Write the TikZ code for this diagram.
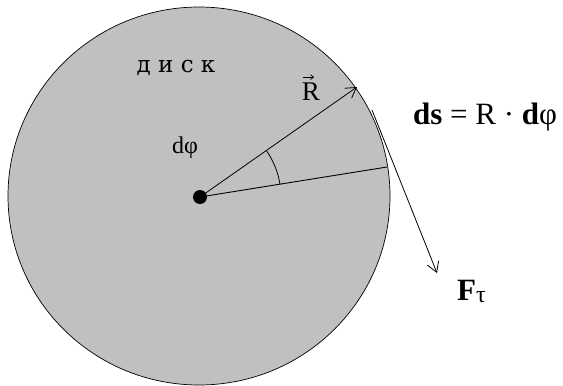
\documentclass[tikz,border=0pt]{standalone}
\usepackage{fontspec}
\setmainfont{Liberation Serif}
\newfontfamily\diskfont{DejaVu Serif}
\usetikzlibrary{arrows.meta,angles}

\definecolor{diskgray}{RGB}{192,192,192}
\tikzset{
  vecline/.style={line width=0.8pt, -{Straight Barb[length=10pt,width=12pt]}},
  plainline/.style={line width=0.9pt},
  biglbl/.style={inner sep=0pt, font=\fontsize{31}{31}\selectfont},
  midlbl/.style={inner sep=0pt, font=\fontsize{24}{24}\selectfont},
}

\begin{document}
\begin{tikzpicture}[x=1pt, y=-1pt]
  \useasboundingbox (0,0) rectangle (563,386);
  % disc
  \draw[fill=diskgray, line width=0.7pt] (199,196) ellipse (191 and 189);
  \node[inner sep=0pt, anchor=base, font=\diskfont\fontsize{23}{23}\selectfont] (disk) at (176,72) {д и с к};
  % centre and radii
  \node[circle, fill=black, inner sep=0pt, minimum size=14pt] (O) at (200,197) {};
  \coordinate (T) at (357,87);
  \coordinate (E) at (387,167);
  \draw[vecline] (O.center) -- (T);
  \draw[plainline] (O.center) -- (E);
  \draw[line width=0.8pt] pic[draw, angle radius=81pt] {angle=E--O--T};
  \node[midlbl, anchor=base west] (dphi) at (172,153) {dφ};
  % radius label with vector arrow
  \node[inner sep=0pt, anchor=base, font=\fontsize{27}{27}\selectfont] (R) at (311,100) {R};
  \draw[line width=0.7pt, -{Straight Barb[length=3pt,width=5pt]}] ([xshift=-8pt,yshift=5pt]R.north) -- ([xshift=3pt,yshift=5pt]R.north);
  % arc length
  \node[biglbl, anchor=base] (ds) at (485,124) {\textbf{ds} = R · \textbf{d}φ};
  % tangential force
  \coordinate (S) at (372,110);
  \coordinate (Ft) at (437,273);
  \draw[vecline] (S) -- (Ft);
  \node[biglbl, anchor=base west] (force) at (457,300) {\textbf{F}\raisebox{-2pt}{\fontsize{24}{24}\selectfont τ}};
\end{tikzpicture}
\end{document}
